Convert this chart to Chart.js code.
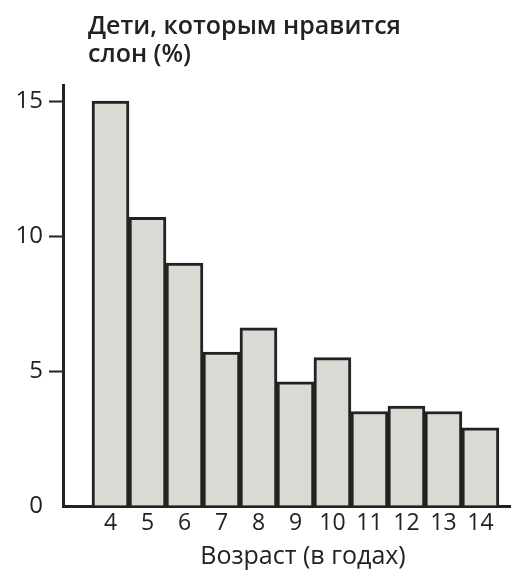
<!DOCTYPE html>
<html>
<head>
<meta charset="utf-8">
<script src="https://cdn.jsdelivr.net/npm/chart.js@4"></script>
<style>
  html, body { margin: 0; padding: 0; background: #fff; }
  #wrap { width: 514px; height: 573px; }
</style>
</head>
<body>
<div id="wrap"><canvas id="elephantChart" width="514" height="573"></canvas></div>
<script>
// values
const ages = [4, 5, 6, 7, 8, 9, 10, 11, 12, 13, 14];
const likePercent = [15.0, 10.7, 9.0, 5.7, 6.6, 4.6, 5.5, 3.5, 3.7, 3.5, 2.9];
const yTickValues = [0, 5, 10, 15];
const titleLines = ["Дети, которым нравится", "слон (%)"];
const xAxisTitle = "Возраст (в годах)";

const ink = "#222222";
const fontFamily = "'Open Sans', 'Noto Sans', sans-serif";

// chart title (top left) and x axis caption, placed like in the original
const textPlugin = {
    id: "captions",
    afterDraw(chart) {
        const ctx = chart.ctx;
        const area = chart.chartArea;
        ctx.save();
        ctx.fillStyle = ink;
        ctx.textBaseline = "middle";
        ctx.textAlign = "left";
        ctx.font = "600 25px " + fontFamily;
        titleLines.forEach(function(line, i) {
            ctx.fillText(line, area.left + 25, 27 + i * 28);
        });
        ctx.textAlign = "center";
        ctx.font = "500 25px " + fontFamily;
        ctx.fillText(xAxisTitle, 303, 557);
        ctx.restore();
    }
};

document.addEventListener("DOMContentLoaded", function() {
    const ctx = document.getElementById("elephantChart").getContext("2d");

    new Chart(ctx, {
        type: "bar",
        data: {
            datasets: [{
                label: titleLines.join(" "),
                data: ages.map(function(a, i) { return { x: a, y: likePercent[i] }; }),
                backgroundColor: "#dadad4",
                borderColor: ink,
                borderWidth: 3,
                barPercentage: 1,
                categoryPercentage: 1
            }]
        },
        plugins: [textPlugin],
        options: {
            responsive: false,
            animation: false,
            layout: { padding: { top: 85, right: 4, left: 0, bottom: 0 } },
            plugins: {
                legend: { display: false },
                tooltip: { enabled: false }
            },
            scales: {
                x: {
                    type: "linear",
                    offset: false,
                    min: 2.716,
                    max: 14.8,
                    afterBuildTicks: function(scale) {
                        scale.ticks = ages.map(function(v) { return { value: v }; });
                    },
                    afterFit: function(scale) { scale.height = 67; },
                    grid: { display: false, drawTicks: false },
                    border: { display: true, color: ink, width: 3 },
                    ticks: {
                        color: ink,
                        padding: 4,
                        autoSkip: false,
                        maxRotation: 0,
                        font: { family: fontFamily, size: 23, weight: "500" }
                    }
                },
                y: {
                    min: 0,
                    max: 15.6,
                    afterBuildTicks: function(scale) {
                        scale.ticks = yTickValues.map(function(v) { return { value: v }; });
                    },
                    afterFit: function(scale) { scale.width = 63; },
                    grid: {
                        drawOnChartArea: false,
                        tickLength: 14,
                        tickWidth: 2,
                        tickColor: function(c) { return c.tick && c.tick.value === 0 ? "rgba(0,0,0,0)" : ink; }
                    },
                    border: { display: true, color: ink, width: 3 },
                    ticks: {
                        color: ink,
                        padding: 6,
                        font: { family: fontFamily, size: 24, weight: "500" }
                    }
                }
            }
        }
    });
});
</script>
</body>
</html>
